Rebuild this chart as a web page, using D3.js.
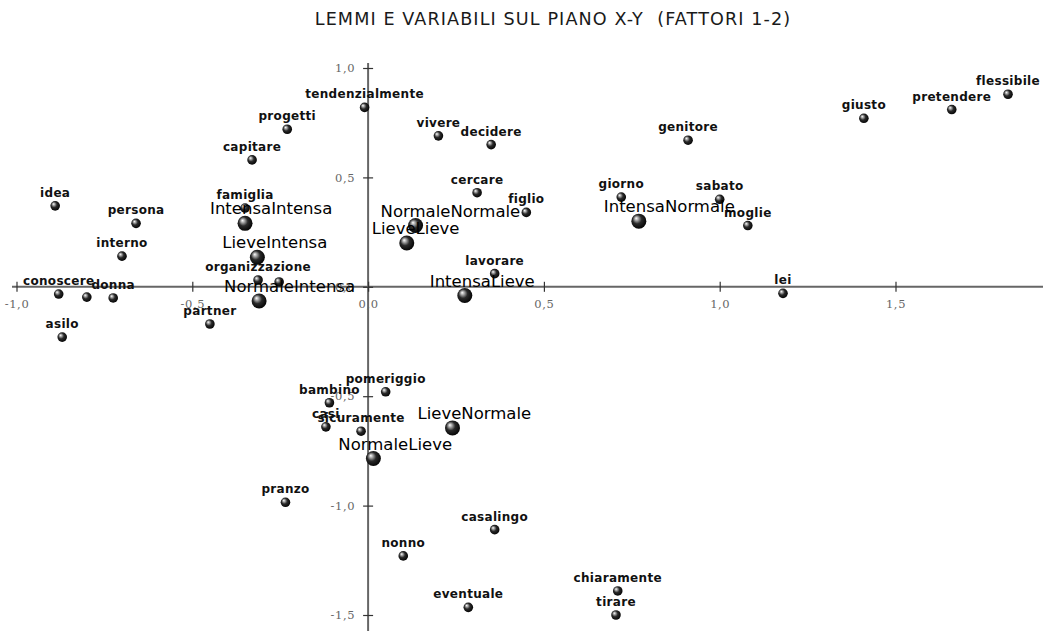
<!DOCTYPE html>
<html lang="it">
<head>
<meta charset="UTF-8">
<title>Lemmi e variabili sul piano X-Y</title>
<style>
    body { margin: 0; background: #fff; }
    svg { display: block; }
    .title { font-family: "DejaVu Sans", sans-serif; font-size: 17.6px; letter-spacing: 1.1px; fill: #1a1a1a; white-space: pre; }
    .tick-label { font-family: "DejaVu Serif", serif; font-size: 11.5px; fill: #666; letter-spacing: 0.6px; }
    .word { font-family: "DejaVu Sans", sans-serif; font-size: 12px; font-weight: bold; letter-spacing: 0.3px; fill: #111; }
    .var { font-family: "DejaVu Sans", sans-serif; font-size: 16.5px; fill: #000; }
    .axis-line { stroke: #666; stroke-width: 2; }
    .tick line { stroke: #333; stroke-width: 1.2; }
</style>
</head>
<body>
<svg id="chart" width="1043" height="631"></svg>

<script src="https://d3js.org/d3.v7.min.js"></script>
<script>
// lemmi (parole)
const words = ['flessibile', 'pretendere', 'giusto', 'genitore', 'giorno', 'sabato', 'moglie', 'lei',
    'tendenzialmente', 'vivere', 'decidere', 'cercare', 'figlio', 'lavorare',
    'idea', 'persona', 'interno', 'conoscere', '', 'donna', 'asilo',
    'famiglia', 'organizzazione', '', 'partner', 'progetti', 'capitare',
    'pomeriggio', 'bambino', 'casi', 'sicuramente', 'pranzo',
    'casalingo', 'nonno', 'eventuale', 'chiaramente', 'tirare'];
const wordX = [1.82, 1.66, 1.41, 0.91, 0.72, 1.00, 1.08, 1.18,
    -0.01, 0.20, 0.35, 0.31, 0.45, 0.36,
    -0.89, -0.66, -0.70, -0.88, -0.80, -0.725, -0.87,
    -0.35, -0.313, -0.253, -0.45, -0.23, -0.33,
    0.05, -0.11, -0.12, -0.02, -0.235,
    0.36, 0.10, 0.285, 0.71, 0.705];
const wordY = [0.88, 0.81, 0.77, 0.67, 0.41, 0.40, 0.28, -0.03,
    0.82, 0.69, 0.65, 0.43, 0.34, 0.06,
    0.37, 0.29, 0.14, -0.033, -0.047, -0.051, -0.23,
    0.36, 0.031, 0.022, -0.17, 0.72, 0.58,
    -0.48, -0.53, -0.64, -0.66, -0.985,
    -1.11, -1.23, -1.465, -1.39, -1.50];

// variabili
const vars = ['IntensaIntensa', 'LieveIntensa', 'NormaleIntensa', 'NormaleNormale', 'LieveLieve',
    'IntensaLieve', 'IntensaNormale', 'LieveNormale', 'NormaleLieve'];
const varX = [-0.35, -0.315, -0.31, 0.135, 0.11, 0.275, 0.77, 0.24, 0.015];
const varY = [0.29, 0.135, -0.065, 0.28, 0.20, -0.04, 0.30, -0.645, -0.785];

const xTicks = [-1, -0.5, 0, 0.5, 1, 1.5];
const yTicks = [1, 0.5, 0, -0.5, -1, -1.5];

const svg = d3.select('#chart');
const width = +svg.attr('width');
const height = +svg.attr('height');

const x = d3.scaleLinear().domain([-1, 1.5]).range([16.5, 895.5]);
const y = d3.scaleLinear().domain([-1.5, 1]).range([615, 68]);

const it = d3.formatLocale({decimal: ',', thousands: '.', grouping: [3], currency: ['', '€'], minus: '-'});
const fmt = it.format('.1f');

// gradient per le sfere
const defs = svg.append('defs');
const grad = defs.append('radialGradient')
    .attr('id', 'sphere')
    .attr('cx', '45%').attr('cy', '45%').attr('r', '60%')
    .attr('fx', '32%').attr('fy', '30%');
grad.append('stop').attr('offset', '0%').attr('stop-color', '#ffffff');
grad.append('stop').attr('offset', '20%').attr('stop-color', '#aaaaaa');
grad.append('stop').attr('offset', '50%').attr('stop-color', '#2a2a2a');
grad.append('stop').attr('offset', '100%').attr('stop-color', '#000000');

svg.append('text')
    .attr('class', 'title')
    .attr('x', 553)
    .attr('y', 25)
    .attr('text-anchor', 'middle')
    .text('LEMMI E VARIABILI SUL PIANO X-Y  (FATTORI 1-2)');

// assi
svg.append('line').attr('class', 'axis-line')
    .attr('x1', 12).attr('x2', width)
    .attr('y1', y(0)).attr('y2', y(0));
svg.append('line').attr('class', 'axis-line')
    .attr('x1', x(0)).attr('x2', x(0))
    .attr('y1', y(1) - 5).attr('y2', height);

const gx = svg.append('g')
    .attr('transform', `translate(0,${y(0)})`)
    .call(d3.axisBottom(x).tickValues(xTicks).tickFormat(fmt).tickSize(5).tickPadding(8));
gx.select('.domain').remove();
gx.selectAll('.tick line').attr('y1', -5);
gx.selectAll('.tick text').attr('class', 'tick-label');
gx.attr('font-family', null).attr('font-size', null);

const gy = svg.append('g')
    .attr('transform', `translate(${x(0)},0)`)
    .call(d3.axisLeft(y).tickValues(yTicks).tickFormat(fmt).tickSize(5).tickPadding(8));
gy.select('.domain').remove();
gy.selectAll('.tick line').attr('x1', 5);
gy.selectAll('.tick text').attr('class', 'tick-label');
gy.attr('font-family', null).attr('font-size', null);
svg.selectAll('.tick text').attr('fill', null);

// lemmi
const wordData = words.map((w, i) => ({label: w, x: wordX[i], y: wordY[i]}));
const varData = vars.map((v, i) => ({label: v, x: varX[i], y: varY[i]}));

svg.append('g')
    .selectAll('circle')
    .data(wordData)
    .join('circle')
    .attr('cx', d => x(d.x))
    .attr('cy', d => y(d.y))
    .attr('r', 4.8)
    .attr('fill', 'url(#sphere)');

svg.append('g')
    .selectAll('text')
    .data(wordData.filter(d => d.label))
    .join('text')
    .attr('class', 'word')
    .attr('x', d => x(d.x))
    .attr('y', d => y(d.y) - 9)
    .attr('text-anchor', 'middle')
    .text(d => d.label);

// variabili
svg.append('g')
    .selectAll('circle')
    .data(varData)
    .join('circle')
    .attr('cx', d => x(d.x))
    .attr('cy', d => y(d.y))
    .attr('r', 7.5)
    .attr('fill', 'url(#sphere)');

svg.append('g')
    .selectAll('text')
    .data(varData)
    .join('text')
    .attr('class', 'var')
    .attr('x', d => x(d.x) - 35)
    .attr('y', d => y(d.y) - 9)
    .text(d => d.label);
</script>
</body>
</html>
